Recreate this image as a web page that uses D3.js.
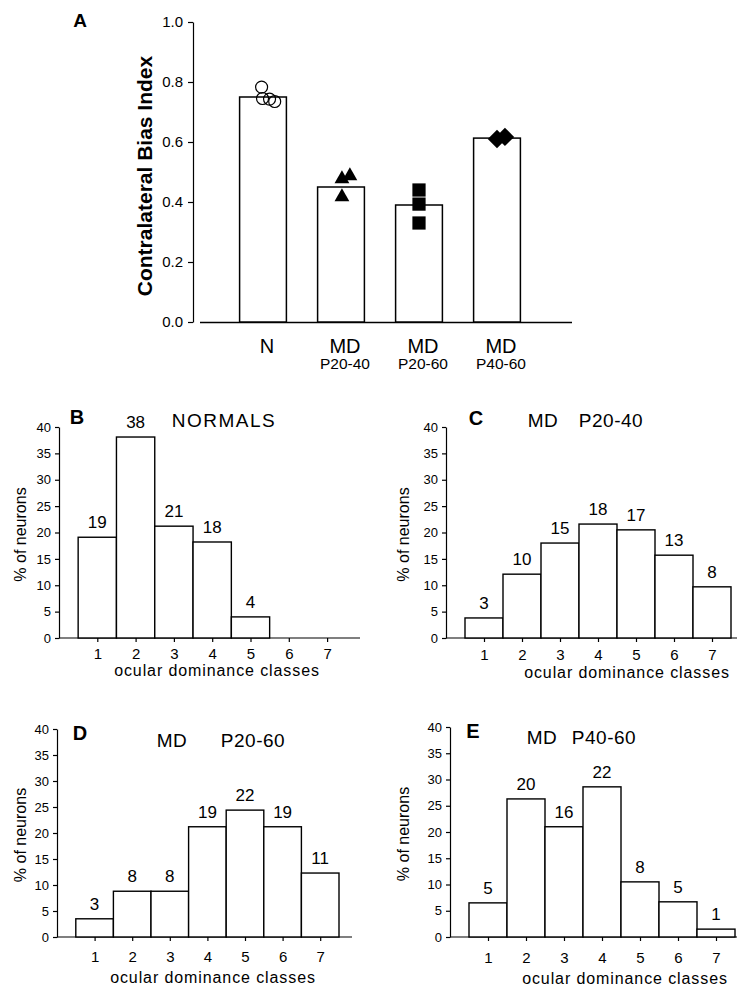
<!DOCTYPE html>
<html>
<head>
<meta charset="utf-8">
<script src="https://cdn.jsdelivr.net/npm/d3@7"></script>
<style>
  body { margin: 0; background: #fff; }
  svg { font-family: "Liberation Sans", Arial, sans-serif; }
  .axis path, .axis line { stroke: #000; stroke-width: 1.2; }
  .axis text { fill: #000; }
</style>
</head>
<body>
<svg id="fig" width="738" height="986"></svg>
<script>
// ---- panel A: contralateral bias index ----
var groups = ["N", "MD P20-40", "MD P20-60", "MD P40-60"];
var groupMain = ["N", "MD", "MD", "MD"];
var groupSub = ["", "P20-40", "P20-60", "P40-60"];
var cbiMeans = [0.75, 0.45, 0.39, 0.613];
// individual animals (value, horizontal jitter as fraction of bar width)
var cbiN = [0.783, 0.745, 0.743, 0.735];
var jitN = [-0.03, -0.01, 0.14, 0.25];
var cbi2040 = [0.477, 0.487, 0.417];
var jit2040 = [0.02, 0.19, 0.02];
var cbi2060 = [0.44, 0.393, 0.33];
var jit2060 = [0, 0, 0];
var cbi4060 = [0.61, 0.617];
var jit4060 = [0, 0.17];
var cbiTicks = [0, 0.2, 0.4, 0.6, 0.8, 1.0];

// ---- panels B-E: ocular dominance histograms ----
var classes = [1, 2, 3, 4, 5, 6, 7];
var pctTicks = [0, 5, 10, 15, 20, 25, 30, 35, 40];
var normalsPct = [19.1, 38.1, 21.2, 18.2, 4.0, 0, 0];
var normalsLbl = ["19", "38", "21", "18", "4", "", ""];
var md2040Pct = [3.8, 12.1, 18.0, 21.6, 20.5, 15.7, 9.7];
var md2040Lbl = ["3", "10", "15", "18", "17", "13", "8"];
var md2060Pct = [3.5, 8.8, 8.8, 21.2, 24.4, 21.2, 12.3];
var md2060Lbl = ["3", "8", "8", "19", "22", "19", "11"];
var md4060Pct = [6.5, 26.3, 21.0, 28.6, 10.5, 6.7, 1.5];
var md4060Lbl = ["5", "20", "16", "22", "8", "5", "1"];

var svg = d3.select("#fig");

// ================= Panel A =================
var yA = d3.scaleLinear().domain([0, 1]).range([322, 22]);
var xA = d3.scaleBand().domain(groups).range([224, 536]).paddingInner(0.4).paddingOuter(0.2);

var gA = svg.append("g");

gA.append("g").attr("class", "axis")
  .attr("transform", "translate(193,0)")
  .call(d3.axisLeft(yA).tickValues(cbiTicks).tickFormat(d3.format(".1f")).tickSize(5).tickSizeOuter(0).tickPadding(5))
  .call(function(g) { g.selectAll("text").attr("font-size", 15); });

gA.append("line")
  .attr("x1", 200).attr("x2", 572)
  .attr("y1", yA(0) + 0.5).attr("y2", yA(0) + 0.5)
  .attr("stroke", "#000").attr("stroke-width", 1.3);

gA.selectAll("rect.bar")
  .data(groups)
  .enter().append("rect")
  .attr("class", "bar")
  .attr("x", function(d) { return xA(d); })
  .attr("width", xA.bandwidth())
  .attr("y", function(d, i) { return yA(cbiMeans[i]); })
  .attr("height", function(d, i) { return yA(0) - yA(cbiMeans[i]); })
  .attr("fill", "#fff").attr("stroke", "#000").attr("stroke-width", 1.5);

function pts(group, vals, jit) {
  return vals.map(function(v, i) { return { g: group, v: v, j: jit[i] }; });
}
function px(d) { return xA(d.g) + xA.bandwidth() * (0.5 + d.j); }

gA.selectAll("circle.n")
  .data(pts(groups[0], cbiN, jitN))
  .enter().append("circle")
  .attr("cx", px).attr("cy", function(d) { return yA(d.v); })
  .attr("r", 6).attr("fill", "none").attr("stroke", "#000").attr("stroke-width", 1.2);

gA.selectAll("path.tri")
  .data(pts(groups[1], cbi2040, jit2040))
  .enter().append("path")
  .attr("d", d3.symbol().type(d3.symbolTriangle).size(95))
  .attr("transform", function(d) { return "translate(" + px(d) + "," + yA(d.v) + ")"; })
  .attr("fill", "#000");

gA.selectAll("path.sq")
  .data(pts(groups[2], cbi2060, jit2060))
  .enter().append("path")
  .attr("d", d3.symbol().type(d3.symbolSquare).size(175))
  .attr("transform", function(d) { return "translate(" + px(d) + "," + yA(d.v) + ")"; })
  .attr("fill", "#000");

gA.selectAll("path.dia")
  .data(pts(groups[3], cbi4060, jit4060))
  .enter().append("path")
  .attr("d", d3.symbol().type(d3.symbolSquare).size(170))
  .attr("transform", function(d) { return "translate(" + px(d) + "," + yA(d.v) + ") rotate(45)"; })
  .attr("fill", "#000");

gA.selectAll("text.main")
  .data(groups)
  .enter().append("text")
  .attr("x", function(d) { return xA(d) + xA.bandwidth() / 2 + 4; })
  .attr("y", 353)
  .attr("text-anchor", "middle").attr("font-size", 20)
  .text(function(d, i) { return groupMain[i]; });

gA.selectAll("text.sub")
  .data(groups)
  .enter().append("text")
  .attr("x", function(d) { return xA(d) + xA.bandwidth() / 2 + 4; })
  .attr("y", 369)
  .attr("text-anchor", "middle").attr("font-size", 15.5)
  .text(function(d, i) { return groupSub[i]; });

gA.append("text")
  .attr("transform", "translate(152,176) rotate(-90)")
  .attr("text-anchor", "middle").attr("font-size", 21).attr("font-weight", "bold")
  .text("Contralateral Bias Index");

gA.append("text")
  .attr("x", 80).attr("y", 20).attr("dy", "0.35em")
  .attr("text-anchor", "middle").attr("font-size", 19).attr("font-weight", "bold")
  .text("A");

// ================= Histograms =================
var panels = [
  { letter: "B", pct: normalsPct, lbl: normalsLbl, left: 59, unit: 38.3, right: 360, top: 427, bottom: 638,
    letterXY: [77, 417], title: [["NORMALS", 224]], titleY: 420, tickPad: 6, xlabY: 670, xlabX: 217, ylabX: 20 },
  { letter: "C", pct: md2040Pct, lbl: md2040Lbl, left: 446, unit: 38, right: 737, top: 427, bottom: 638,
    letterXY: [476, 418], title: [["MD", 543], ["P20-40", 611]], titleY: 420, tickPad: 7, xlabY: 672, xlabX: 627, ylabX: 403 },
  { letter: "D", pct: md2060Pct, lbl: md2060Lbl, left: 57, unit: 37.6, right: 352, top: 729, bottom: 937,
    letterXY: [80, 733], title: [["MD", 172], ["P20-60", 253]], titleY: 740, tickPad: 10, xlabY: 977, xlabX: 213, ylabX: 20 },
  { letter: "E", pct: md4060Pct, lbl: md4060Lbl, left: 450, unit: 38, right: 737, top: 727, bottom: 937,
    letterXY: [473, 731], title: [["MD", 542], ["P40-60", 604]], titleY: 737, tickPad: 11, xlabY: 978, xlabX: 625, ylabX: 403 }
];

panels.forEach(function(p) {
  var g = svg.append("g");
  var x = d3.scaleLinear().domain([0, 1]).range([p.left, p.left + p.unit]);
  var y = d3.scaleLinear().domain([0, 40]).range([p.bottom, p.top]);

  g.append("g").attr("class", "axis")
    .attr("transform", "translate(" + p.left + ",0)")
    .call(d3.axisLeft(y).tickValues(pctTicks).tickSize(4).tickSizeOuter(0).tickPadding(4))
    .call(function(a) { a.selectAll("text").attr("font-size", 13); });

  var xa = g.append("g").attr("class", "axis")
    .attr("transform", "translate(0," + p.bottom + ")")
    .call(d3.axisBottom(x).tickValues(classes).tickFormat(d3.format("d")).tickSize(4).tickSizeOuter(0).tickPadding(p.tickPad))
    .call(function(a) { a.selectAll("text").attr("font-size", 15); });
  xa.select(".domain").attr("d", "M" + p.left + ",0H" + p.right);

  var data = classes.map(function(c, i) { return { c: c, v: p.pct[i], l: p.lbl[i] }; })
    .filter(function(d) { return d.v > 0; });

  g.selectAll("rect.bar")
    .data(data)
    .enter().append("rect")
    .attr("x", function(d) { return x(d.c - 0.5); })
    .attr("width", function(d) { return x(d.c + 0.5) - x(d.c - 0.5); })
    .attr("y", function(d) { return y(d.v); })
    .attr("height", function(d) { return y(0) - y(d.v); })
    .attr("fill", "#fff").attr("stroke", "#000").attr("stroke-width", 1.4);

  g.selectAll("text.val")
    .data(data)
    .enter().append("text")
    .attr("x", function(d) { return x(d.c); })
    .attr("y", function(d) { return y(d.v) - 9; })
    .attr("text-anchor", "middle").attr("font-size", 17)
    .text(function(d) { return d.l; });

  g.append("text")
    .attr("x", p.letterXY[0]).attr("y", p.letterXY[1]).attr("dy", "0.35em")
    .attr("text-anchor", "middle").attr("font-size", 20).attr("font-weight", "bold")
    .text(p.letter);

  p.title.forEach(function(t) {
    g.append("text")
      .attr("x", t[1]).attr("y", p.titleY).attr("dy", "0.35em")
      .attr("text-anchor", "middle").attr("font-size", 19)
      .attr("letter-spacing", t[0] === "NORMALS" ? 1.5 : 0.5)
      .text(t[0]);
  });

  g.append("text")
    .attr("x", p.xlabX).attr("y", p.xlabY).attr("dy", "0.35em")
    .attr("text-anchor", "middle").attr("font-size", 16).attr("letter-spacing", 0.9)
    .text("ocular dominance classes");

  g.append("text")
    .attr("transform", "translate(" + p.ylabX + "," + ((p.top + p.bottom) / 2 + 2) + ") rotate(-90)")
    .attr("dy", "0.35em")
    .attr("text-anchor", "middle").attr("font-size", 16)
    .text("% of neurons");
});
</script>
</body>
</html>
